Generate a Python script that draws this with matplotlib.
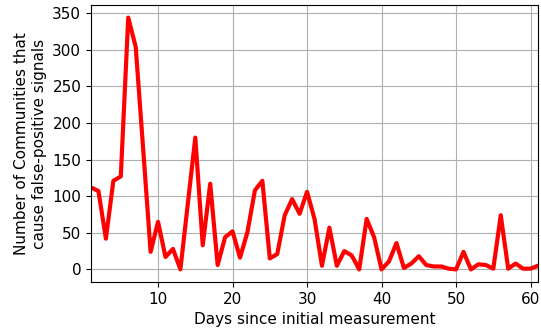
import matplotlib
matplotlib.use("Agg")
import matplotlib.pyplot as plt

days = list(range(1, 62))
counts = [112, 107, 42, 121, 127, 344, 304, 165, 24, 65,
          17, 28, 0, 90, 180, 33, 117, 6, 44, 52,
          16, 51, 108, 121, 15, 21, 74, 96, 76, 106,
          69, 5, 57, 5, 25, 19, 0, 69, 44, 0,
          11, 36, 2, 8, 18, 6, 4, 4, 1, 0,
          24, 0, 7, 6, 1, 74, 1, 8, 1, 1,
          5]

fig = plt.figure(figsize=(5.41, 3.29), dpi=100)
ax = fig.add_axes([91/541, 1-282/329, (538-91)/541, (282-5)/329])
ax.plot(days, counts, color="red", linewidth=3)
ax.set_xlim(1, 61)
ax.grid(True)
ax.set_xlabel("Days since initial measurement", fontsize=11)
ax.set_ylabel("Number of Communities that\ncause false-positive signals", fontsize=11)
ax.tick_params(labelsize=11)
fig.savefig("out.png", dpi=100)
